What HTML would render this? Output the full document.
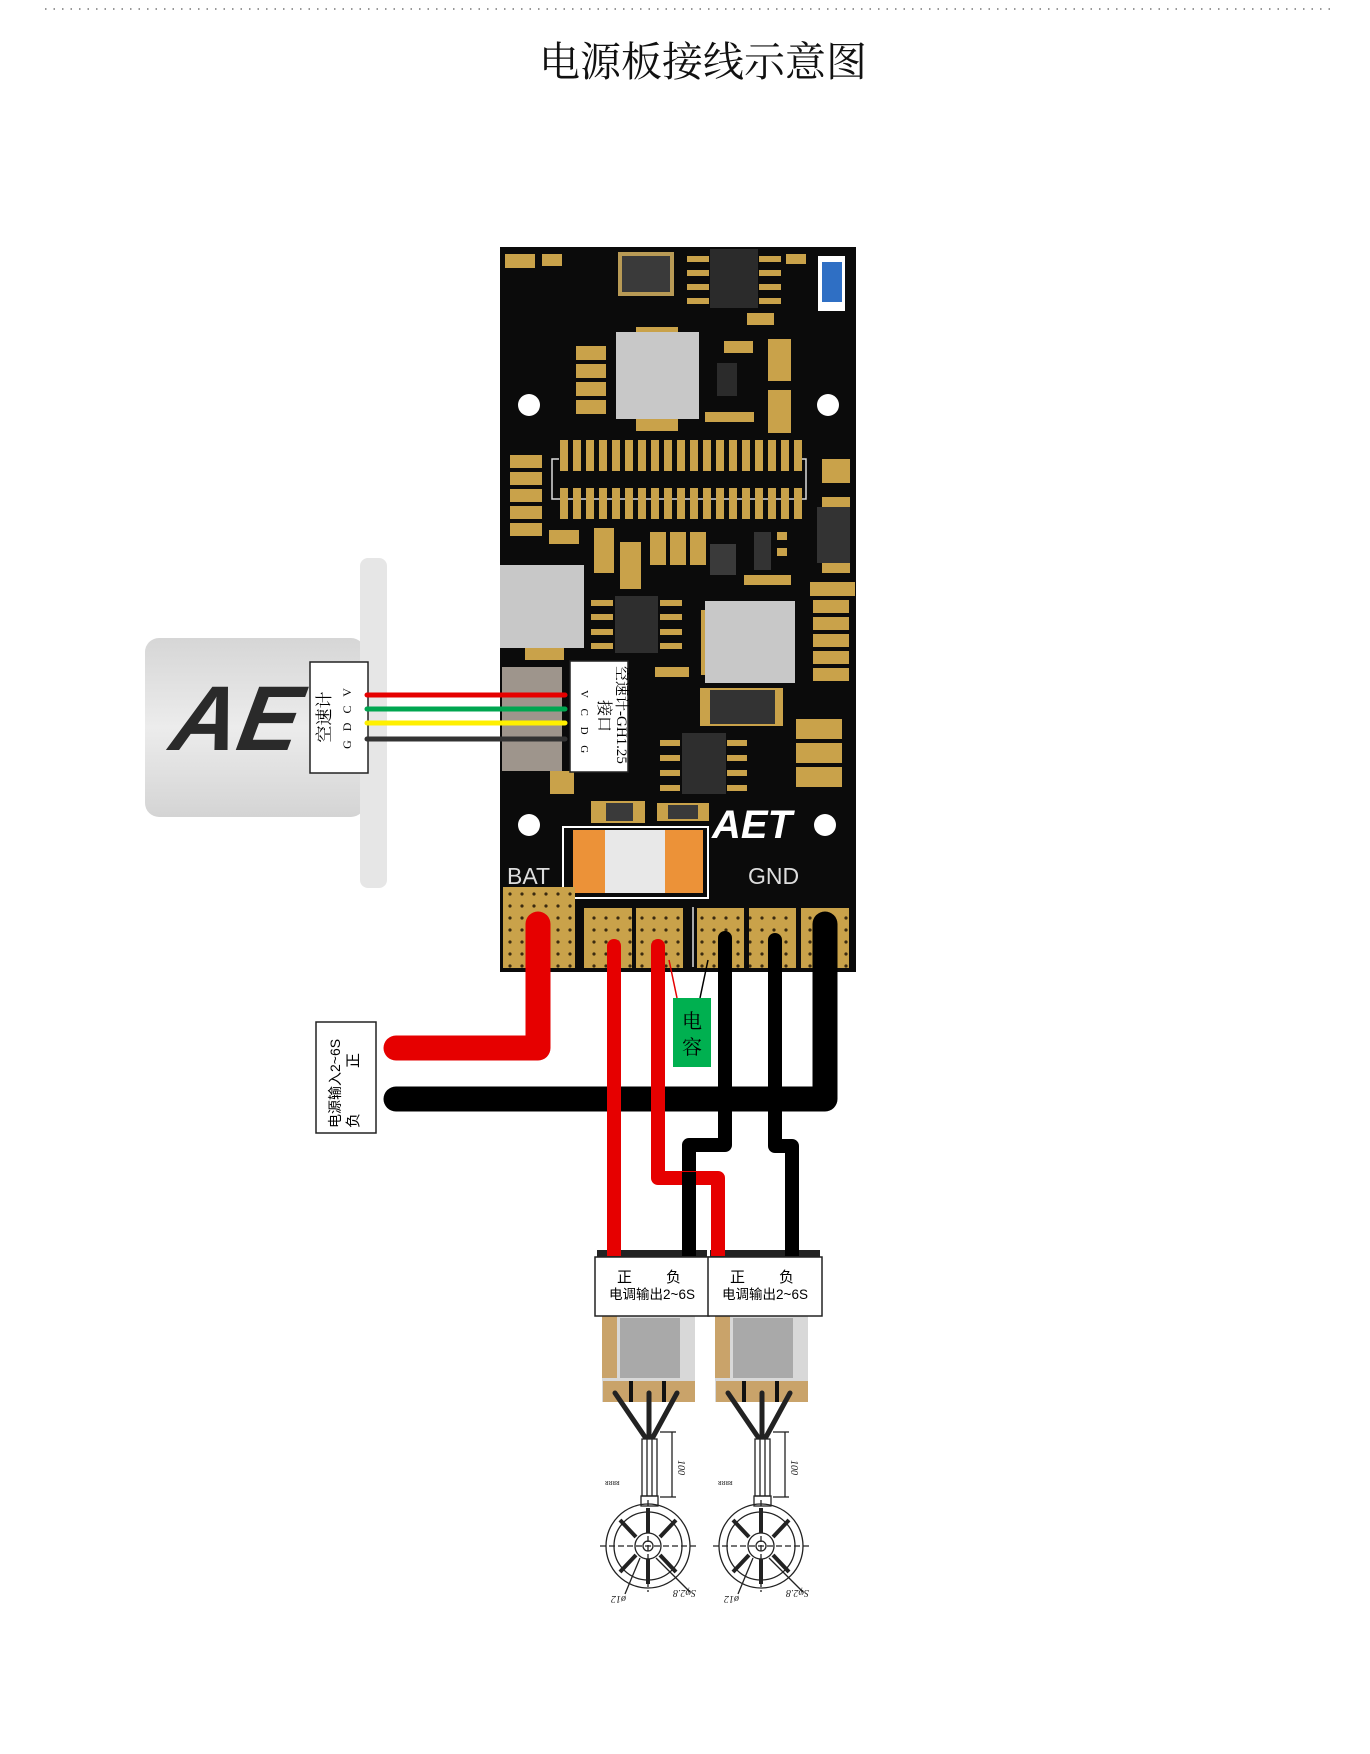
<!DOCTYPE html>
<html><head><meta charset="utf-8"><style>
html,body{margin:0;padding:0;background:#fff;}
svg{display:block;}
.t{font-family:"Liberation Serif","Noto Serif CJK SC",serif;}
.s{font-family:"Liberation Sans","Noto Sans CJK SC",sans-serif;}
</style></head><body>
<svg width="1370" height="1754" viewBox="0 0 1370 1754" xmlns="http://www.w3.org/2000/svg">
<defs>
<pattern id="dots" width="12" height="12" patternUnits="userSpaceOnUse"><rect width="12" height="12" fill="#c9a24a"/><circle cx="6" cy="6" r="1.6" fill="#3a2a10"/></pattern>
<linearGradient id="sens" x1="0" y1="0" x2="0" y2="1"><stop offset="0" stop-color="#d6d6d6"/><stop offset=".5" stop-color="#ececec"/><stop offset="1" stop-color="#d4d4d4"/></linearGradient>
<clipPath id="sc"><rect x="145" y="638" width="220" height="179" rx="14"/></clipPath>
</defs>
<line x1="45" y1="9" x2="1337" y2="9" stroke="#777" stroke-width="1.5" stroke-dasharray="1.5 7"/>
<text x="703" y="76" class="t" font-size="41" text-anchor="middle" fill="#111">电源板接线示意图</text>

<rect x="145" y="638" width="220" height="179" rx="14" fill="url(#sens)"/>
<g clip-path="url(#sc)">
<text x="300" y="750" font-family="Liberation Sans" font-weight="bold" font-style="italic" font-size="92" fill="#2a2a2a" transform="skewX(-10)">AET</text>
</g>
<rect x="360" y="558" width="27" height="330" rx="8" fill="#e6e6e6"/>

<rect x="500" y="247" width="356" height="725" fill="#0b0b0b"/>
<g fill="#c9a24a">
<rect x="505" y="254" width="30" height="14"/><rect x="542" y="254" width="20" height="12"/>
<rect x="687" y="256" width="22" height="6"/><rect x="687" y="270" width="22" height="6"/><rect x="687" y="284" width="22" height="6"/><rect x="687" y="298" width="22" height="6"/>
<rect x="759" y="256" width="22" height="6"/><rect x="759" y="270" width="22" height="6"/><rect x="759" y="284" width="22" height="6"/><rect x="759" y="298" width="22" height="6"/>
<rect x="747" y="313" width="27" height="12"/><rect x="786" y="254" width="20" height="10"/>
<rect x="576" y="346" width="30" height="14"/><rect x="576" y="364" width="30" height="14"/><rect x="576" y="382" width="30" height="14"/><rect x="576" y="400" width="30" height="14"/>
<rect x="636" y="327" width="42" height="7"/><rect x="636" y="417" width="42" height="14"/>
<rect x="724" y="341" width="29" height="12"/><rect x="705" y="412" width="49" height="10"/>
<rect x="768" y="339" width="23" height="42"/><rect x="768" y="390" width="23" height="43"/>
<rect x="510" y="455" width="32" height="13"/><rect x="510" y="472" width="32" height="13"/><rect x="510" y="489" width="32" height="13"/><rect x="510" y="506" width="32" height="13"/><rect x="510" y="523" width="32" height="13"/>
<rect x="549" y="530" width="30" height="14"/>
<rect x="822" y="459" width="28" height="24"/><rect x="822" y="497" width="28" height="10"/><rect x="822" y="563" width="28" height="10"/>
<rect x="594" y="528" width="20" height="45"/><rect x="620" y="542" width="21" height="47"/>
<rect x="650" y="532" width="16" height="33"/><rect x="670" y="532" width="16" height="33"/><rect x="690" y="532" width="16" height="33"/>
<rect x="777" y="532" width="10" height="8"/><rect x="777" y="548" width="10" height="8"/><rect x="744" y="575" width="47" height="10"/>
<rect x="810" y="582" width="45" height="14"/><rect x="813" y="600" width="36" height="13"/><rect x="813" y="617" width="36" height="13"/><rect x="813" y="634" width="36" height="13"/><rect x="813" y="651" width="36" height="13"/><rect x="813" y="668" width="36" height="13"/>
<rect x="525" y="648" width="39" height="12"/>
<rect x="591" y="600" width="22" height="6"/><rect x="591" y="614" width="22" height="6"/><rect x="591" y="629" width="22" height="6"/><rect x="591" y="643" width="22" height="6"/>
<rect x="660" y="600" width="22" height="6"/><rect x="660" y="614" width="22" height="6"/><rect x="660" y="629" width="22" height="6"/><rect x="660" y="643" width="22" height="6"/>
<rect x="701" y="610" width="8" height="65"/><rect x="655" y="667" width="34" height="10"/>
<rect x="700" y="688" width="83" height="38"/>
<rect x="660" y="740" width="20" height="6"/><rect x="660" y="755" width="20" height="6"/><rect x="660" y="770" width="20" height="6"/><rect x="660" y="785" width="20" height="6"/>
<rect x="727" y="740" width="20" height="6"/><rect x="727" y="755" width="20" height="6"/><rect x="727" y="770" width="20" height="6"/><rect x="727" y="785" width="20" height="6"/>
<rect x="796" y="719" width="46" height="20"/><rect x="796" y="743" width="46" height="20"/><rect x="796" y="767" width="46" height="20"/>
<rect x="591" y="801" width="54" height="22"/><rect x="657" y="803" width="52" height="18"/>
<rect x="550" y="771" width="24" height="23"/>
</g>
<rect x="552" y="459" width="254" height="40" fill="none" stroke="#ddd" stroke-width="1.5"/>
<rect x="559" y="440" width="241" height="31" fill="#0b0b0b"/>
<g id="pins" fill="#c9a24a">
<rect x="560" y="440" width="8" height="31"/><rect x="573" y="440" width="8" height="31"/><rect x="586" y="440" width="8" height="31"/><rect x="599" y="440" width="8" height="31"/><rect x="612" y="440" width="8" height="31"/><rect x="625" y="440" width="8" height="31"/><rect x="638" y="440" width="8" height="31"/><rect x="651" y="440" width="8" height="31"/><rect x="664" y="440" width="8" height="31"/><rect x="677" y="440" width="8" height="31"/><rect x="690" y="440" width="8" height="31"/><rect x="703" y="440" width="8" height="31"/><rect x="716" y="440" width="8" height="31"/><rect x="729" y="440" width="8" height="31"/><rect x="742" y="440" width="8" height="31"/><rect x="755" y="440" width="8" height="31"/><rect x="768" y="440" width="8" height="31"/><rect x="781" y="440" width="8" height="31"/><rect x="794" y="440" width="8" height="31"/>
</g>
<use href="#pins" y="48"/>
<rect x="618" y="252" width="56" height="44" fill="#b89a55"/><rect x="622" y="256" width="48" height="36" fill="#3a3a3a"/>
<rect x="710" y="249" width="48" height="59" fill="#2b2b2b"/>
<rect x="818" y="256" width="27" height="55" fill="#fff"/><rect x="822" y="262" width="20" height="40" fill="#2f6fc4"/>
<rect x="616" y="332" width="83" height="87" fill="#c8c8c8"/>
<rect x="717" y="363" width="20" height="33" fill="#2b2b2b"/>
<rect x="817" y="507" width="33" height="56" fill="#333"/>
<rect x="710" y="544" width="26" height="31" fill="#3a3a3a"/>
<rect x="754" y="532" width="17" height="38" fill="#333"/>
<rect x="500" y="565" width="84" height="83" fill="#c8c8c8"/>
<rect x="615" y="596" width="43" height="57" fill="#2e2e2e"/>
<rect x="705" y="601" width="90" height="82" fill="#c8c8c8"/>
<rect x="710" y="690" width="65" height="34" fill="#333"/>
<rect x="682" y="733" width="44" height="61" fill="#2e2e2e"/>
<rect x="606" y="803" width="27" height="18" fill="#3a3a3a"/><rect x="668" y="805" width="30" height="14" fill="#3a3a3a"/>
<rect x="502" y="667" width="60" height="104" fill="#9e958c"/>
<circle cx="529" cy="405" r="11" fill="#fff"/><circle cx="828" cy="405" r="11" fill="#fff"/>
<circle cx="529" cy="825" r="11" fill="#fff"/><circle cx="825" cy="825" r="11" fill="#fff"/>
<text x="712" y="838" font-family="Liberation Sans" font-weight="bold" font-style="italic" font-size="40" fill="#fff">AET</text>
<rect x="563" y="827" width="145" height="71" fill="none" stroke="#fff" stroke-width="2"/>
<rect x="573" y="830" width="32" height="63" fill="#ec9238"/><rect x="605" y="830" width="60" height="63" fill="#e8e8e8"/><rect x="665" y="830" width="38" height="63" fill="#ec9238"/>
<text x="507" y="884" class="s" font-size="23" fill="#ddd">BAT</text>
<text x="748" y="884" class="s" font-size="23" fill="#ddd">GND</text>
<rect x="503" y="887" width="72" height="81" fill="url(#dots)"/>
<rect x="584" y="908" width="48" height="60" fill="url(#dots)"/>
<rect x="636" y="908" width="47" height="60" fill="url(#dots)"/>
<rect x="697" y="908" width="47" height="60" fill="url(#dots)"/>
<rect x="749" y="908" width="47" height="60" fill="url(#dots)"/>
<rect x="801" y="908" width="48" height="60" fill="url(#dots)"/>
<line x1="693" y1="907" x2="693" y2="967" stroke="#ddd" stroke-width="1.5"/>

<rect x="310" y="662" width="58" height="111" fill="#fff" stroke="#222" stroke-width="1.5"/>
<text class="t" font-size="17" fill="#000" transform="translate(330,717) rotate(-90)" text-anchor="middle">空速计</text>
<text class="t" font-size="12" fill="#000" transform="translate(351,717) rotate(-90)" text-anchor="middle" letter-spacing="3">G D C V</text>
<g stroke-width="5" stroke-linecap="round">
<line x1="367" y1="695" x2="565" y2="695" stroke="#e60000"/>
<line x1="367" y1="709" x2="565" y2="709" stroke="#00a650"/>
<line x1="367" y1="723" x2="565" y2="723" stroke="#fff000"/>
<line x1="367" y1="739" x2="565" y2="739" stroke="#333"/>
</g>
<rect x="570" y="661" width="58" height="111" fill="#fff" stroke="#222" stroke-width="1.5"/>
<text class="t" font-size="15" fill="#000" transform="translate(617,666) rotate(90)">空速计-GH1.25</text>
<text class="t" font-size="16" fill="#000" transform="translate(599,700) rotate(90)">接口</text>
<text class="t" font-size="11" fill="#000" transform="translate(581,690) rotate(90)" letter-spacing="4">V C D G</text>

<path d="M538 924 V1048 H396" fill="none" stroke="#e60000" stroke-width="25" stroke-linecap="round" stroke-linejoin="round"/>
<path d="M825 924 V1099 H396" fill="none" stroke="#000" stroke-width="25" stroke-linecap="round" stroke-linejoin="round"/>
<path d="M725 938 V1145 H689 V1256" fill="none" stroke="#000" stroke-width="14" stroke-linejoin="round" stroke-linecap="round"/>
<path d="M775 940 V1146 H792 V1256" fill="none" stroke="#000" stroke-width="14" stroke-linejoin="round" stroke-linecap="round"/>
<path d="M614 946 V1256" fill="none" stroke="#e60000" stroke-width="14" stroke-linecap="round"/>
<path d="M658 946 V1178 H718 V1256" fill="none" stroke="#e60000" stroke-width="14" stroke-linejoin="round" stroke-linecap="round"/>
<path d="M689 1172 V1256" stroke="#000" stroke-width="14"/>
<line x1="669" y1="960" x2="677" y2="998" stroke="#e60000" stroke-width="1.5"/>
<line x1="708" y1="960" x2="700" y2="998" stroke="#000" stroke-width="1.5"/>
<rect x="673" y="998" width="38" height="69" fill="#00b050"/>
<text x="692" y="1028" class="t" font-size="20" text-anchor="middle" fill="#000">电</text>
<text x="692" y="1054" class="t" font-size="20" text-anchor="middle" fill="#000">容</text>
<rect x="316" y="1022" width="60" height="111" fill="#fff" stroke="#222" stroke-width="1.5"/>
<text class="s" font-size="14" fill="#000" transform="translate(340,1128) rotate(-90)">电源输入2~6S</text>
<text class="s" font-size="15" fill="#000" transform="translate(358,1128) rotate(-90)">负</text>
<text class="s" font-size="15" fill="#000" transform="translate(358,1068) rotate(-90)">正</text>

<g id="esc">
<rect x="597" y="1250" width="110" height="8" fill="#222"/>
<rect x="602" y="1316" width="93" height="86" fill="#d8d8d8"/>
<rect x="602" y="1316" width="15" height="62" fill="#c9a36a"/>
<rect x="620" y="1318" width="60" height="60" fill="#a9a9a9"/>
<rect x="603" y="1381" width="92" height="21" fill="#c9a36a"/>
<rect x="629" y="1381" width="4" height="21" fill="#111"/><rect x="662" y="1381" width="4" height="21" fill="#111"/>
<g stroke="#222" stroke-width="5" stroke-linecap="round"><line x1="615" y1="1393" x2="645" y2="1437"/><line x1="649" y1="1393" x2="649" y2="1437"/><line x1="677" y1="1393" x2="653" y2="1437"/></g>
<g fill="none" stroke="#222" stroke-width="1.3">
<rect x="642" y="1439" width="15" height="57"/><line x1="647" y1="1439" x2="647" y2="1496"/><line x1="652" y1="1439" x2="652" y2="1496"/>
<line x1="660" y1="1432" x2="676" y2="1432"/><line x1="672" y1="1432" x2="672" y2="1497"/><line x1="660" y1="1497" x2="676" y2="1497"/>
<rect x="641" y="1496" width="17" height="10"/>
<circle cx="648" cy="1546" r="42"/><circle cx="648" cy="1546" r="34"/><circle cx="648" cy="1546" r="13"/><circle cx="648" cy="1546" r="5"/>
<line x1="600" y1="1546" x2="696" y2="1546" stroke-dasharray="6 3"/><line x1="648" y1="1500" x2="648" y2="1592" stroke-dasharray="6 3"/>
<line x1="636" y1="1537" x2="620" y2="1520" stroke-width="4"/><line x1="660" y1="1537" x2="676" y2="1520" stroke-width="4"/><line x1="636" y1="1555" x2="620" y2="1572" stroke-width="4"/><line x1="660" y1="1555" x2="676" y2="1572" stroke-width="4"/><line x1="648" y1="1533" x2="648" y2="1508" stroke-width="4"/><line x1="648" y1="1559" x2="648" y2="1584" stroke-width="4"/>
<line x1="640" y1="1558" x2="625" y2="1594"/><line x1="656" y1="1558" x2="690" y2="1592"/>
</g>
<text class="t" font-size="10" font-style="italic" fill="#222" transform="translate(678,1460) rotate(90)">100</text>
<text x="605" y="1485" class="t" font-size="8" fill="#333">ᴚᴚᴚᴚ</text>
<text class="t" font-size="10" font-style="italic" fill="#222" transform="translate(626,1596) rotate(180)">ø12</text>
<text class="t" font-size="10" font-style="italic" fill="#222" transform="translate(696,1590) rotate(180)">Sφ2.8</text>
<rect x="595" y="1257" width="114" height="59" fill="#fff" stroke="#222" stroke-width="1.5"/>
<text x="617" y="1282" class="s" font-size="15" fill="#000">正</text>
<text x="666" y="1282" class="s" font-size="15" fill="#000">负</text>
<text x="652" y="1299" class="s" font-size="13.5" fill="#000" text-anchor="middle">电调输出2~6S</text>
</g>
<use href="#esc" x="113"/>
<path d="M614 1240 V1256" stroke="#e60000" stroke-width="14"/>
<path d="M689 1240 V1256" stroke="#000" stroke-width="14"/>
<path d="M718 1240 V1256" stroke="#e60000" stroke-width="14"/>
<path d="M792 1240 V1256" stroke="#000" stroke-width="14"/>
</svg>
</body></html>
